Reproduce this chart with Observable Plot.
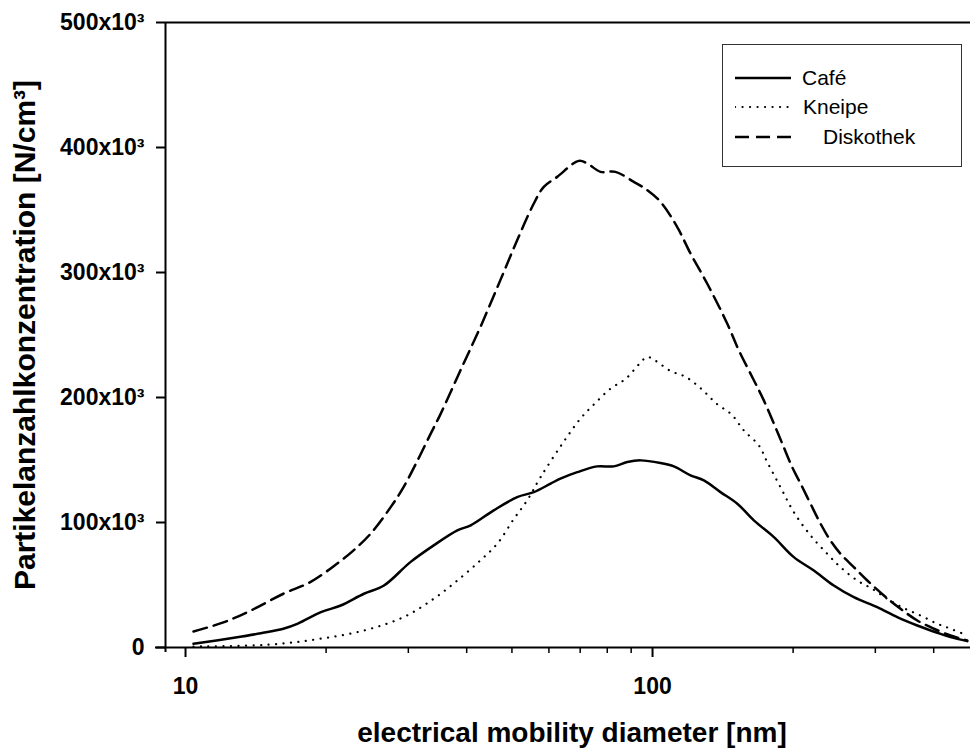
<!DOCTYPE html>
<html>
<head>
<meta charset="utf-8">
<script src="https://cdn.jsdelivr.net/npm/d3@7"></script>
<script src="https://cdn.jsdelivr.net/npm/@observablehq/plot@0.6"></script>
<style>
  html, body { margin: 0; padding: 0; background: white; }
  #wrap { position: relative; width: 970px; height: 751px; font-family: "Liberation Sans", Arial, sans-serif; }
  #legend { position: absolute; left: 722px; top: 44px; width: 238px; height: 121px; border: 1.5px solid #333; background: white; }
  .item { position: absolute; left: 0; height: 24px; }
  .item svg { position: absolute; left: 12px; top: 0; }
  .item span { position: absolute; top: 0; line-height: 24px; font-size: 21px; color: #000; white-space: nowrap; }
</style>
</head>
<body>
<div id="wrap"><div id="legend"></div></div>
<script>
// Series names
const seriesNames = ["Café", "Kneipe", "Diskothek"];

// Café (solid): diameter [nm], concentration [x10^3 N/cm3]
const cafeD = [10.4, 12.7, 14.5, 16.2, 17.4, 19.5, 21.5, 24.1, 26.6, 30.3, 34.0, 38.2, 40.8, 45.7, 51.3, 55.7, 60.5, 63.5, 69.0, 76.1, 82.6, 88.3, 94.3, 104.0, 111.1, 120.6, 128.8, 139.8, 151.9, 164.8, 181.9, 200.7, 221.5, 244.4, 269.8, 302.8, 334.2, 368.9, 407.1, 434.6, 472];
const cafeN = [3.0, 7.8, 11.4, 15.0, 19.1, 28.3, 33.6, 43.0, 49.6, 68.3, 81.7, 93.7, 97.7, 109.7, 120.3, 124.3, 131.1, 135.1, 140.3, 144.9, 144.9, 148.4, 149.7, 147.6, 144.9, 137.7, 133.7, 124.3, 115.0, 101.7, 88.3, 72.3, 61.6, 49.6, 40.3, 32.3, 24.3, 17.6, 11.8, 8.3, 5.1];

// Kneipe (dotted)
const kneipeD = [10.4, 15.0, 19.1, 24.1, 29.3, 34.0, 38.2, 42.8, 46.5, 50.5, 53.9, 57.6, 64.1, 70.1, 75.2, 81.3, 87.7, 93.8, 97.4, 101.1, 109.3, 117.9, 127.3, 137.1, 147.6, 156.8, 168.9, 176.0, 187.9, 200.7, 217.9, 236.6, 252.6, 274.4, 295.4, 318.1, 345.2, 374.9, 407.1, 434.6, 472];
const kneipeN = [0.8, 2.2, 6.6, 13.6, 24.3, 39.0, 53.6, 69.7, 83.0, 103.0, 117.7, 136.4, 163.0, 183.1, 195.1, 207.1, 215.1, 227.1, 232.4, 229.8, 221.2, 216.4, 206.8, 195.1, 186.5, 173.7, 161.7, 148.4, 128.3, 108.3, 89.7, 75.0, 64.3, 53.6, 47.0, 39.0, 31.5, 25.6, 19.0, 15.0, 9.6];

// Diskothek (dashed)
const diskoD = [10.4, 12.1, 13.8, 16.2, 18.5, 21.1, 22.9, 24.9, 27.5, 29.3, 31.4, 33.5, 35.2, 38.8, 42.8, 47.3, 51.3, 55.7, 58.5, 62.5, 69.5, 72.5, 77.4, 83.3, 91.2, 97.4, 104.0, 112.9, 120.6, 130.9, 144.5, 153.0, 164.8, 173.1, 181.9, 189.6, 199.1, 207.5, 217.9, 229.0, 240.5, 252.6, 269.8, 288.3, 312.9, 339.6, 368.9, 400.4, 434.6, 472];
const diskoN = [12.8, 20.3, 29.6, 43.0, 52.3, 67.0, 77.7, 91.0, 112.3, 128.3, 149.7, 171.1, 187.1, 221.8, 256.4, 294.5, 325.8, 355.2, 368.5, 376.5, 389.3, 387.2, 380.5, 380.5, 372.5, 365.9, 356.5, 336.5, 315.2, 291.2, 259.2, 237.8, 213.8, 197.7, 179.1, 163.1, 144.3, 131.1, 115.0, 99.0, 85.5, 75.0, 64.3, 53.6, 41.6, 31.0, 21.6, 15.0, 9.6, 5.6];

// Axis ticks
const yTicks = [0, 100, 200, 300, 400, 500];
const xMajor = [10, 100];
const xMinor = [20, 30, 40, 50, 60, 70, 80, 90, 200, 300, 400];
const xDomain = [9.06, 479.6];

const toRows = (D, N) => D.map((d, i) => ({d, n: N[i]}));
const cafe = toRows(cafeD, cafeN);
const kneipe = toRows(kneipeD, kneipeN);
const disko = toRows(diskoD, diskoN);

const styles = [
  {strokeWidth: 2.5, strokeDasharray: null, linecap: "butt"},
  {strokeWidth: 2.2, strokeDasharray: "0.1,7.4", linecap: "round"},
  {strokeWidth: 2.5, strokeDasharray: "14,7", linecap: "butt"}
];

const bold = "bold";
const fmt = d => d === 0 ? "0" : `${d}x10³`;

const chart = Plot.plot({
  width: 970,
  height: 751,
  marginLeft: 165,
  marginRight: 0,
  marginTop: 22,
  marginBottom: 104,
  style: {fontFamily: "'Liberation Sans', Arial, sans-serif", background: "white", color: "black"},
  x: {type: "log", domain: xDomain},
  y: {domain: [yTicks[0], yTicks[yTicks.length - 1]]},
  marks: [
    Plot.axisY({ticks: yTicks, tickSize: 9, tickPadding: 12, tickFormat: fmt, fontSize: 23, fontWeight: bold, strokeWidth: 2, label: null}),
    Plot.axisX({ticks: xMajor, tickSize: 10, tickPadding: 20, tickFormat: d => String(d), fontSize: 23, fontWeight: bold, strokeWidth: 2, label: null}),
    Plot.axisX({ticks: xMinor, tickSize: 6, tickFormat: () => "", strokeWidth: 1.5, label: null}),
    Plot.ruleY([yTicks[0]], {insetLeft: -10, strokeWidth: 2}),
    Plot.ruleY([yTicks[yTicks.length - 1]], {strokeWidth: 2}),
    Plot.ruleX([xDomain[0]], {strokeWidth: 2, insetBottom: -5}),
    Plot.line(cafe, {x: "d", y: "n", curve: "catmull-rom", stroke: "black", strokeWidth: styles[0].strokeWidth}),
    Plot.line(kneipe, {x: "d", y: "n", curve: "catmull-rom", stroke: "black", strokeWidth: styles[1].strokeWidth, strokeDasharray: styles[1].strokeDasharray, strokeLinecap: "round"}),
    Plot.line(disko, {x: "d", y: "n", curve: "catmull-rom", stroke: "black", strokeWidth: styles[2].strokeWidth, strokeDasharray: styles[2].strokeDasharray}),
    Plot.text(["Partikelanzahlkonzentration [N/cm³]"], {frameAnchor: "left", dx: -140, rotate: -90, fontSize: 30, fontWeight: bold, textAnchor: "middle", lineAnchor: "middle", fill: "black"}),
    Plot.text(["electrical mobility diameter [nm]"], {frameAnchor: "bottom", dx: 4, dy: 94, lineAnchor: "bottom", fontSize: 28, fontWeight: bold, fill: "black"})
  ]
});

const wrap = document.getElementById("wrap");
wrap.insertBefore(chart, wrap.firstChild);

// Legend (inside plot, upper right)
const legend = document.getElementById("legend");
const itemTops = [21, 50, 80];
const textLefts = [79, 80, 100];
seriesNames.forEach((name, i) => {
  const it = document.createElement("div");
  it.className = "item";
  it.style.top = (itemTops[i]) + "px";
  it.style.width = "238px";
  const s = styles[i];
  it.innerHTML = `<svg width="58" height="24"><line x1="0" x2="56" y1="12" y2="12" stroke="black" stroke-width="${s.strokeWidth}" ${s.strokeDasharray ? `stroke-dasharray="${s.strokeDasharray}"` : ""} stroke-linecap="${s.linecap}"/></svg><span style="left:${textLefts[i]}px">${name}</span>`;
  legend.appendChild(it);
});
</script>
</body>
</html>
